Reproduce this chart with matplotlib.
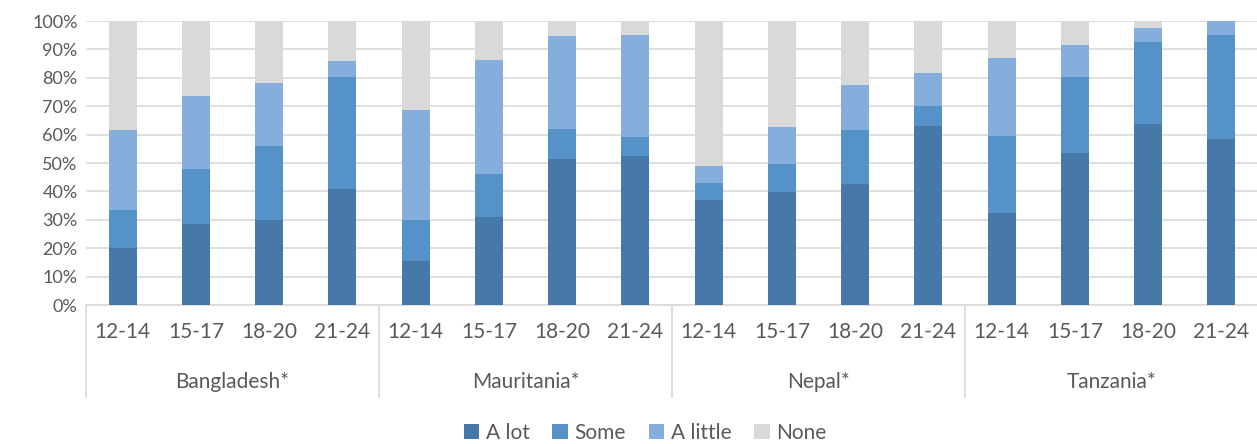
import numpy as np
import matplotlib.pyplot as plt
from matplotlib.transforms import blended_transform_factory

plt.rcParams['font.family'] = ['Lato', 'DejaVu Sans']

countries = ["Bangladesh*", "Mauritania*", "Nepal*", "Tanzania*"]
ages = ["12-14", "15-17", "18-20", "21-24"]

# share of respondents per answer, one value per country/age bar (percent)
a_lot = [20.0, 28.5, 29.9, 41.0,
         15.4, 31.0, 51.5, 52.6,
         37.0, 39.9, 42.6, 63.1,
         32.5, 53.5, 63.6, 58.6]
some = [13.5, 19.4, 26.2, 39.2,
        14.5, 15.1, 10.6, 6.6,
        6.0, 9.6, 18.9, 7.0,
        27.0, 26.7, 29.0, 36.6]
a_little = [28.0, 25.6, 21.9, 5.8,
            38.6, 40.1, 32.5, 36.0,
            6.1, 13.1, 16.0, 11.5,
            27.6, 11.5, 5.0, 4.8]
none = [38.5, 26.5, 22.0, 14.0,
        31.5, 13.8, 5.4, 4.8,
        50.9, 37.4, 22.5, 18.4,
        12.9, 8.3, 2.4, 0.0]

series = [("A lot", a_lot, "#4678a8"),
          ("Some", some, "#5592c8"),
          ("A little", a_little, "#86aedc"),
          ("None", none, "#d9d9d9")]

fig = plt.figure(figsize=(12.57, 4.44), dpi=100)
ax = fig.add_axes([86 / 1257, 139 / 444, 1172 / 1257, 284 / 444])

x = np.arange(len(a_lot))
bottom = np.zeros(len(x))
for name, vals, col in series:
    vals = np.array(vals)
    ax.bar(x, vals, width=0.38, bottom=bottom, color=col, label=name, zorder=3)
    bottom += vals

ax.set_xlim(-0.5, len(x) - 0.5)
ax.set_ylim(0, 100)
ax.set_yticks(np.arange(0, 101, 10))
ax.set_yticklabels([f"{v}%" for v in range(0, 101, 10)])
ax.yaxis.grid(True, color="#d9d9d9", linewidth=1.2, zorder=0)
ax.tick_params(axis="y", length=0, labelsize=13, labelcolor="#595959", pad=6)

ax.set_xticks(x)
ax.set_xticklabels(ages * len(countries))
ax.tick_params(axis="x", length=0, labelsize=15, labelcolor="#595959", pad=12)

for s in ["top", "right", "left"]:
    ax.spines[s].set_visible(False)
ax.spines["bottom"].set_color("#d9d9d9")
ax.spines["bottom"].set_linewidth(1.2)

# group labels and separators below the axis
trans = blended_transform_factory(ax.transData, ax.transAxes)
for i, c in enumerate(countries):
    ax.text(i * 4 + 1.5, -0.272, c, transform=trans, ha="center", va="center",
            fontsize=15, color="#595959")
for i in range(len(countries) + 1):
    ax.plot([i * 4 - 0.5] * 2, [0, -0.325], transform=trans, color="#d9d9d9",
            linewidth=1.2, clip_on=False)

fig.legend(loc="center", bbox_to_anchor=(645 / 1257, 1 - 433 / 444), ncol=4,
           frameon=False, fontsize=15, handlelength=0.75, handleheight=0.75,
           handletextpad=0.3, columnspacing=1.1, labelcolor="#595959")

fig.savefig("out.png", dpi=100)
